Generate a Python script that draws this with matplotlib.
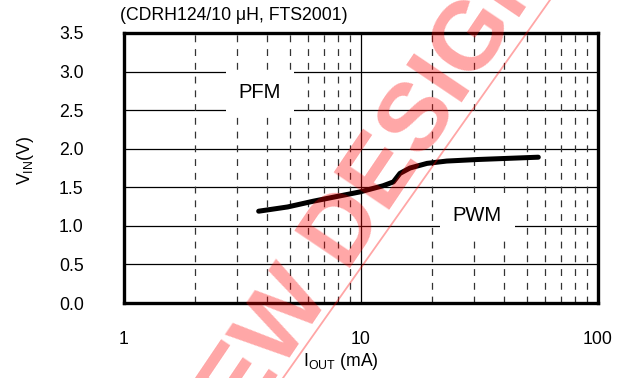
import numpy as np
import matplotlib
matplotlib.use("Agg")
import matplotlib.pyplot as plt
from matplotlib.lines import Line2D

plt.rcParams['font.family'] = ['Liberation Sans', 'DejaVu Sans']

#%% Data
iout = [3.7, 4.9, 6.3, 7.6, 9.9, 12.4, 13.7, 14.6, 16.1, 19, 23, 31, 56]      # mA
vin  = [1.19, 1.245, 1.32, 1.37, 1.44, 1.52, 1.57, 1.68, 1.75, 1.81, 1.84, 1.86, 1.89]

yticks = [0.0, 0.5, 1.0, 1.5, 2.0, 2.5, 3.0, 3.5]
xticks = [1, 10, 100]
xtick_labels = ['1', '10', '100']
title = '(CDRH124/10 \u03bcH, FTS2001)'
mode_labels = ['PFM', 'PWM']
mode_pos = [(3.75, 2.73), (31.0, 1.13)]

#%% Figure
fig = plt.figure(figsize=(6.27, 3.78), dpi=100)
ax = fig.add_axes([0.1978, 0.1984, 0.9537 - 0.1978, 0.9127 - 0.1984])

ax.set_xscale('log')
ax.set_xlim(1, 100)
ax.set_ylim(0, 3.5)

#grid: solid horizontals, dashed verticals at minor decades, solid at 10
for yv in yticks[1:-1]:
    ax.axhline(yv, color='black', lw=0.9, zorder=1)
for dec in [1, 10]:
    for m in range(2, 10):
        ax.axvline(dec * m, color='#333333', lw=0.9, ls=(0, (5.5, 5.5)), zorder=1)
ax.axvline(10, color='black', lw=0.9, zorder=1)

ax.plot(iout, vin, color='black', lw=3.6, solid_capstyle='round', zorder=3)

for lab, (xp, yp) in zip(mode_labels, mode_pos):
    ax.text(xp, yp, lab, fontsize=14.5, ha='center', va='center', zorder=2,
            bbox=dict(facecolor='white', edgecolor='none', boxstyle='square,pad=0.65'))

ax.set_xticks(xticks)
ax.set_xticklabels(xtick_labels)
ax.set_xticks([], minor=True)
ax.set_yticks(yticks)
ax.set_yticklabels(['%.1f' % v for v in yticks])
ax.tick_params(axis='both', which='both', length=0, labelsize=12.7)
ax.tick_params(axis='y', pad=29)
ax.tick_params(axis='x', pad=20)

for sp in ax.spines.values():
    sp.set_linewidth(2.4)
    sp.set_zorder(4)

fig.text(120 / 627, 1 - 15 / 378, title, fontsize=12.7, ha='left', va='center')
fig.text(26 / 627, 1 - 160 / 378, r'V$_{\mathregular{IN}}$(V)', fontsize=12.7,
         rotation=90, ha='center', va='center')
fig.text(341 / 627, 1 - 362 / 378, r'I$_{\mathregular{OUT}}$ (mA)', fontsize=12.7,
         ha='center', va='center')

#%% Watermark (partly off the figure, as in the reference)
fig.text(360 / 627, 1 - 210 / 378, 'NEW DESIGN', fontsize=70, fontweight='bold',
         color='red', alpha=0.35, rotation=56, rotation_mode='anchor',
         ha='center', va='center', zorder=10)
fig.add_artist(Line2D([283 / 627, 550 / 627], [0, 1], transform=fig.transFigure,
                      color='red', alpha=0.35, lw=1.3, zorder=10))

fig.savefig('out.png', dpi=100)
